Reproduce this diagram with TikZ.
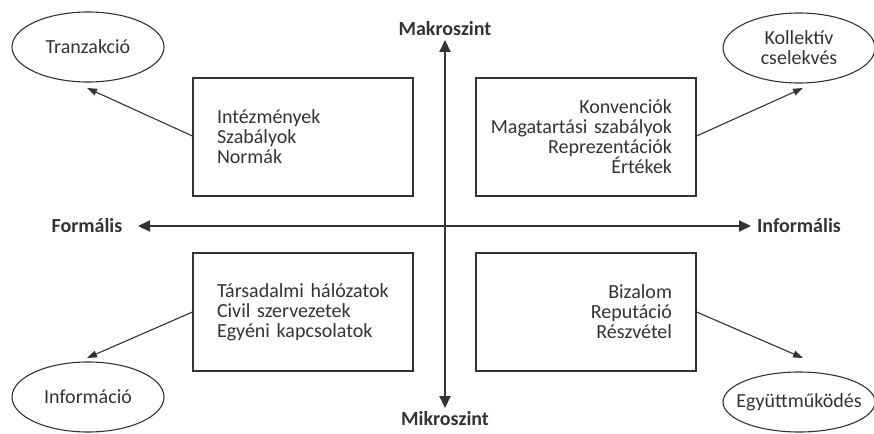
\documentclass[tikz,border=0pt]{standalone}
\usepackage{fontspec}
\setmainfont{Carlito}
\usetikzlibrary{shapes.geometric, arrows.meta, positioning}
\definecolor{ink}{HTML}{333333}

\begin{document}
\begin{tikzpicture}[x=1pt, y=-1pt, color=ink, text=ink,
    font=\fontsize{20}{20}\selectfont,
    quadbox/.style = {shape=rectangle, draw, line width=1.1pt,
      minimum width=220pt, minimum height=118pt,
      text width=172pt, inner xsep=24pt},
    outcome/.style = {shape=ellipse, draw, line width=1.1pt, align=center,
      inner sep=0pt, minimum width=152pt, minimum height=70pt},
    axislabel/.style = {font=\fontsize{20}{20}\selectfont\bfseries},
    axis/.style={draw, line width=2pt, {Triangle[length=12pt,width=11pt]}-{Triangle[length=12pt,width=11pt]}},
    line/.style={draw, line width=1.1pt, -{Triangle[length=10pt,width=7pt]}}]

  \useasboundingbox (0,0) rectangle (874,433);

  % axis ends
  \node[axislabel] (macro) at (445,29) {Makroszint};
  \node[axislabel] (micro) at (445,419) {Mikroszint};
  \node[axislabel] (formal) at (87,226) {Formális};
  \node[axislabel] (informal) at (799,226) {Informális};

  \draw[axis] (445,40) coordinate (top) -- (445,408) coordinate (bottom);
  \draw[axis] (138,226) coordinate (left) -- (751,226) coordinate (right);

  % quadrants
  \node[quadbox, align=left] (inst) at (303,137)
    {Intézmények\\Szabályok\\Normák};
  \node[quadbox, align=right] (conv) at (586,137)
    {Konvenciók\\\makebox[\linewidth][r]{Magatartási szabályok}\\Reprezentációk\\Értékek};
  \node[quadbox, align=left] (netw) at (303,312)
    {Társadalmi hálózatok\\Civil szervezetek\\Egyéni kapcsolatok};
  \node[quadbox, align=right] (trust) at (586,312)
    {Bizalom\\Reputáció\\Részvétel};

  % outcomes
  \node[outcome] (trans) at (88,47) {Tranzakció};
  \node[outcome] (coll) at (799,48) {Kollektív\\cselekvés};
  \node[outcome] (info) at (88,397) {Információ};
  \node[outcome, inner xsep=-10pt, minimum height=60pt] (coop) at (799,402) {Együttműködés};

  \draw[line] (inst.west) ++(0,-1) -- (87,88);
  \draw[line] (conv.east) ++(0,-1) -- (803,88);
  \draw[line] (netw.west) -- (87,358);
  \draw[line] (trust.east) -- (803,358);
\end{tikzpicture}
\end{document}
